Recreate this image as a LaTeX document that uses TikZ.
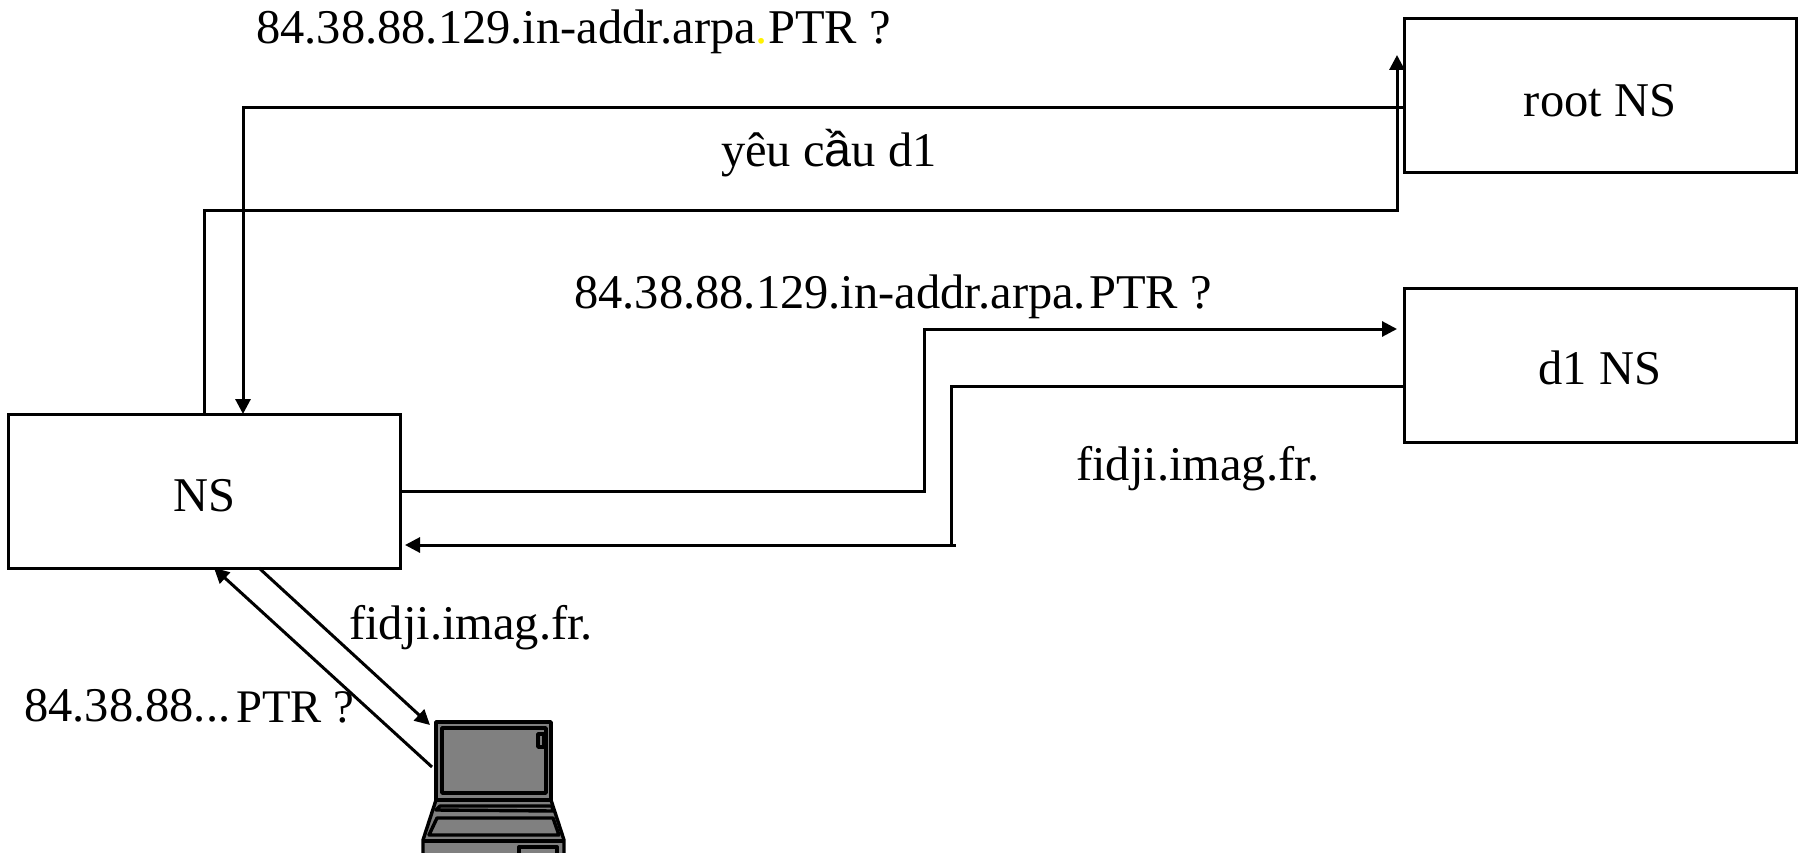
\documentclass[tikz,border=0pt]{standalone}
\usepackage{fontspec}
\setmainfont{Liberation Serif}
\newfontfamily\sansv{Liberation Sans}
\usetikzlibrary{arrows.meta}
\definecolor{lapgray}{RGB}{128,128,128}
\begin{document}
\begin{tikzpicture}[x=1pt,y=-1pt,
  box/.style={draw=black,line width=3pt,fill=white,inner sep=0pt,text depth=0pt,font=\fontsize{48.5}{52}\selectfont},
  lbl/.style={anchor=base west,inner sep=0pt,font=\fontsize{48.5}{52}\selectfont},
  conn/.style={draw=black,line width=3pt,line cap=butt,line join=miter},
  tip/.style={conn,-{Triangle[length=15pt,width=15pt]}},
  lap/.style={draw=black,line width=3.4pt,line join=round,fill=lapgray}]
\useasboundingbox (0,0) rectangle (1804,853);
% laptop
\begin{scope}
\clip (0,0) rectangle (1804,853);
\draw[lap] (436,800) -- (423,840) -- (423,860) -- (564,860) -- (564,840) -- (551,800) -- cycle;
\draw[lap] (423,841) -- (564,841);
\draw[lap] (436,722) rectangle (551,800);
\draw[lap] (442,728) rectangle (546,793);
\draw[lap] (538,734) rectangle (544,747);
\draw[lap] (436,810) -- (440,806) -- (552,806) -- (553,811) -- cycle;
\draw[lap] (437,818) -- (553,818) -- (559,835) -- (429,835) -- cycle;
\draw[lap] (519,847) rectangle (557,860);
\end{scope}
% boxes
\node[box,text height=43pt,minimum width=392pt,minimum height=154pt] (root) at (1600,95.5) {root NS};
\node[box,text height=39pt,minimum width=392pt,minimum height=154pt] (d1) at (1600,365) {d1 NS};
\node[box,text height=40pt,minimum width=392pt,minimum height=154pt] (ns) at (204,491) {NS};
% free ends and bends
\coordinate (lapTop) at (430,725);
\coordinate (lapSide) at (432,767);
\coordinate (nsBotR) at (259,568);
\coordinate (nsBotL) at (214,568);
\coordinate (nsTopR) at (243,414);
\coordinate (rootOut) at (1404,108);
\coordinate (d1Out) at (1404,386);
\coordinate (rootIn) at (1397,55);
\coordinate (d1In) at (1397,329);
\coordinate (nsRightIn) at (405,545);
\coordinate (d1Tail) at (956,545);
% connectors
\draw[tip] (rootOut) -- (nsTopR |- rootOut) -- (nsTopR);
\draw[tip] (ns.north) -- (204,211) -- (1397,211) -- (rootIn);
\draw[tip] (ns.east) -- (924,491) -- (924,329) -- (d1In);
\draw[conn] (d1Out) -- (951,386) -- (951,545);
\draw[tip] (d1Tail) -- (nsRightIn);
\draw[tip] (nsBotR) -- (lapTop);
\draw[tip] (lapSide) -- (nsBotL);
% labels
\node[lbl] (q1) at (256,44) {84.38.88.129.in-addr.arpa\textcolor{yellow}{.}PTR ?};
\node[lbl] (req) at (721,167) {yêu c{\sansv ầ}u d1};
\node[lbl] (q2) at (574,308) {84.38.88.129.in-addr.arpa.\hspace{3pt}PTR ?};
\node[lbl] (a1) at (1076,480) {fidji.imag.fr.};
\node[lbl] (a2) at (349,639) {fidji.imag.fr.};
\node[lbl] (q3) at (24,721) {84.38.88...\hspace{6pt}\raisebox{-1.5pt}{\fontsize{46.7}{50}\selectfont PTR ?}};
\end{tikzpicture}
\end{document}
